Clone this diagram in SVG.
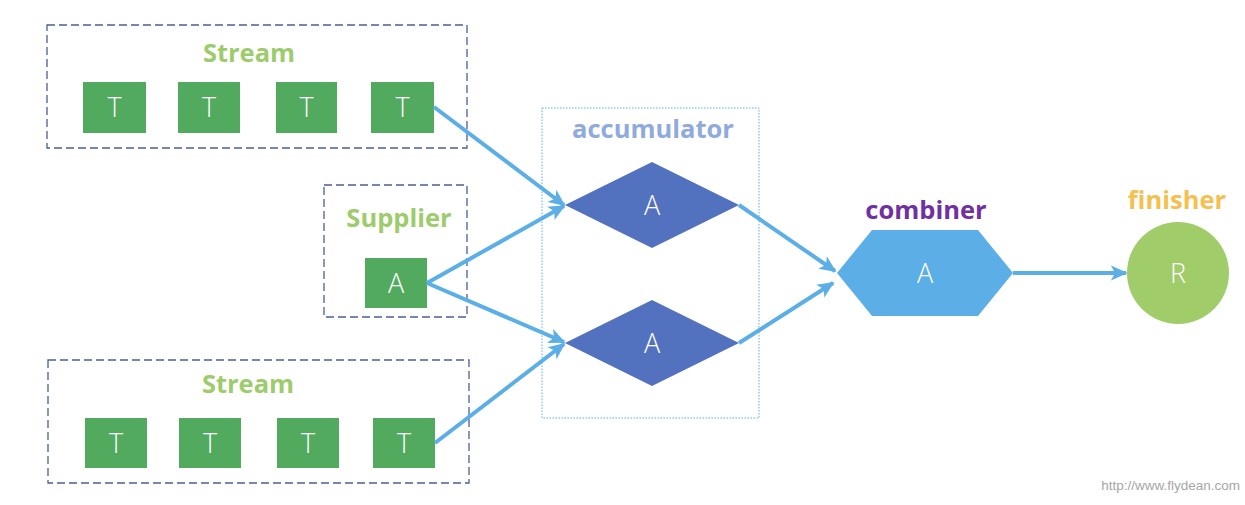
<svg xmlns="http://www.w3.org/2000/svg" width="1245" height="505" viewBox="0 0 1245 505">
<defs>
<marker id="ah" viewBox="0 0 10 10" refX="9" refY="5" markerWidth="4.2" markerHeight="4.2" orient="auto" markerUnits="strokeWidth">
<path d="M0,0.5 L10,5 L0,9.5 L2.5,5 Z" fill="#5BAEE6"/>
</marker>
<style>
.grp{fill:none;stroke:#4A5F9B;stroke-width:1.3;stroke-dasharray:8 4}
.acc{fill:none;stroke:#5BAEE6;stroke-width:1;stroke-dasharray:1.5 1.5}
.sq{fill:#52AA5E}
.dia{fill:#5271BE}
.hex{fill:#5BAEE6}
.circ{fill:#A0CC6A}
.lt{font-family:"Open Sans","Noto Sans","Liberation Sans",sans-serif;font-weight:300;font-size:27px;fill:#FFFFFF;text-anchor:middle}
.ttl{font-family:"Open Sans","Noto Sans","Liberation Sans",sans-serif;font-weight:bold;font-size:25.5px;text-anchor:middle}
.conn{fill:none;stroke:#5BAEE6;stroke-width:4;marker-end:url(#ah)}
</style>
</defs>
<g id="stream-top">
<rect class="grp" x="47" y="25" width="420" height="123"/>
<text class="ttl" x="249" y="62" fill="#9DCC6C">Stream</text>
<rect class="sq" x="83" y="82" width="63" height="51"/>
<rect class="sq" x="178" y="82" width="62" height="51"/>
<rect class="sq" x="276" y="82" width="61" height="51"/>
<rect class="sq" x="371" y="82" width="63" height="51"/>
<text class="lt" x="114.5" y="117">T</text>
<text class="lt" x="209" y="117">T</text>
<text class="lt" x="306.5" y="117">T</text>
<text class="lt" x="402.5" y="117">T</text>
</g>
<g id="stream-bottom">
<rect class="grp" x="48" y="360" width="421" height="123"/>
<text class="ttl" x="248" y="393" fill="#9DCC6C">Stream</text>
<rect class="sq" x="85" y="418" width="62" height="50"/>
<rect class="sq" x="179" y="418" width="62" height="50"/>
<rect class="sq" x="277" y="418" width="62" height="50"/>
<rect class="sq" x="373" y="418" width="62" height="50"/>
<text class="lt" x="116" y="453">T</text>
<text class="lt" x="210" y="453">T</text>
<text class="lt" x="308" y="453">T</text>
<text class="lt" x="404" y="453">T</text>
</g>
<g id="supplier">
<rect class="grp" x="324" y="185" width="143" height="132"/>
<text class="ttl" x="399" y="227" fill="#9DCC6C">Supplier</text>
<rect class="sq" x="365" y="258" width="62" height="50"/>
<text class="lt" x="396" y="293">A</text>
</g>
<g id="accumulator">
<rect class="acc" x="542" y="108" width="217" height="310"/>
<text class="ttl" x="653" y="138" fill="#8FAADC">accumulator</text>
<polygon class="dia" points="565,205 652,162 739,205 652,248"/>
<text class="lt" x="652" y="215">A</text>
<polygon class="dia" points="565,343 652,300 739,343 652,386"/>
<text class="lt" x="652" y="353">A</text>
</g>
<g id="combiner">
<text class="ttl" x="926" y="219" fill="#7030A0">combiner</text>
<polygon class="hex" points="837,273 872,230 978,230 1013,273 978,316 872,316"/>
<text class="lt" x="925" y="283">A</text>
</g>
<g id="finisher">
<text class="ttl" x="1177" y="209" fill="#F5C04F">finisher</text>
<circle class="circ" cx="1178" cy="273" r="51"/>
<text class="lt" x="1178" y="283">R</text>
</g>
<g id="connectors">
<line class="conn" x1="434" y1="107" x2="564" y2="205"/>
<line class="conn" x1="427" y1="283" x2="564" y2="206"/>
<line class="conn" x1="427" y1="283" x2="564" y2="342"/>
<line class="conn" x1="435" y1="443" x2="564" y2="344"/>
<line class="conn" x1="739" y1="205" x2="835" y2="271"/>
<line class="conn" x1="739" y1="343" x2="833" y2="283"/>
<line class="conn" x1="1013" y1="273" x2="1126" y2="273"/>
</g>
<text x="1240" y="490" font-family="'Liberation Sans',Arial,sans-serif" font-size="13.5" fill="#A6A6A6" text-anchor="end">http://www.flydean.com</text>
</svg>
